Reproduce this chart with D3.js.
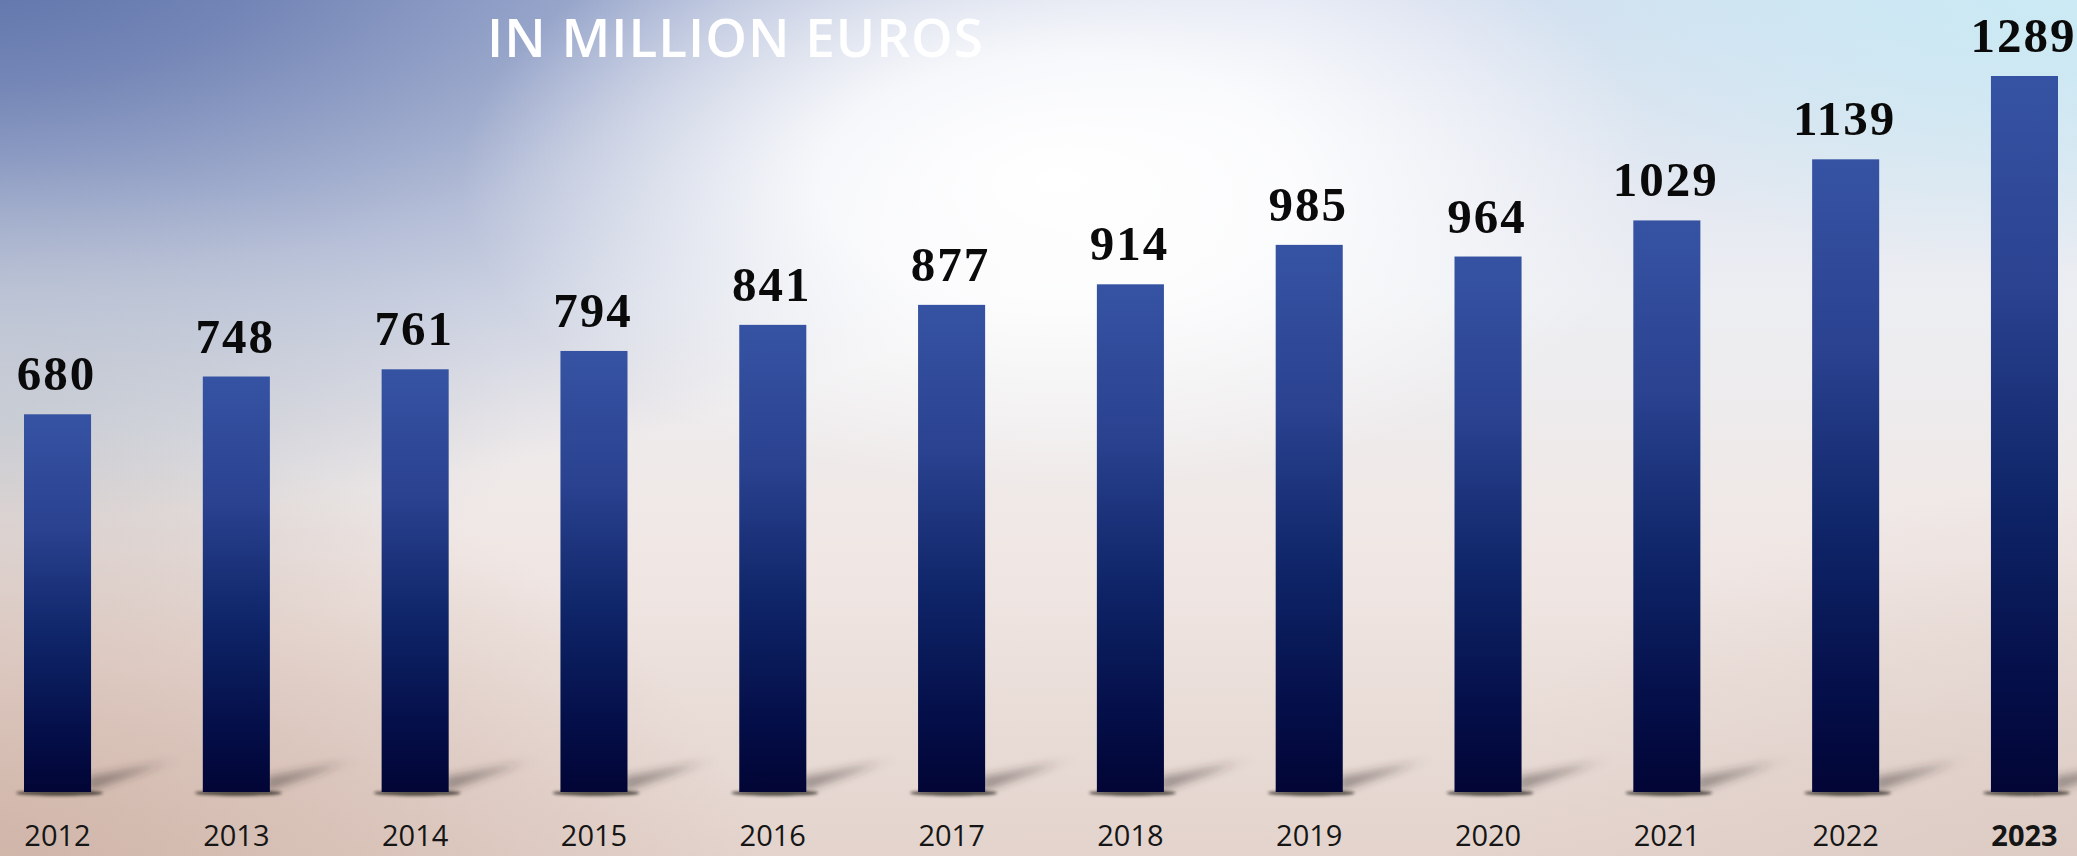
<!DOCTYPE html>
<html>
<head>
<meta charset="utf-8">
<script src="https://cdn.jsdelivr.net/npm/d3@7"></script>
<style>
  html, body { margin: 0; padding: 0; overflow: hidden; background: #e8e4e3; }
  svg { display: block; }
</style>
</head>
<body>
<div id="chart"></div>
<script>
// Annual figures, in million euros
const years  = ["2012", "2013", "2014", "2015", "2016", "2017", "2018", "2019", "2020", "2021", "2022", "2023"];
const values = [680, 748, 761, 794, 841, 877, 914, 985, 964, 1029, 1139, 1289];
const highlightYear = "2023";
const title = "IN MILLION EUROS";

const W = 2077, H = 856;

const svg = d3.select("#chart").append("svg")
  .attr("width", W).attr("height", H);

const defs = svg.append("defs");

// ---- background layers ----
const base = defs.append("linearGradient").attr("id", "bgBase")
  .attr("x1", 0).attr("y1", 0).attr("x2", 0).attr("y2", 1);
[["0%", "#d6ddee"], ["35%", "#eceef2"], ["65%", "#f0e7e4"], ["100%", "#e3d3cc"]]
  .forEach(([o, c]) => base.append("stop").attr("offset", o).attr("stop-color", c));

// elliptical soft spots: (cx, cy) centre, rx / ry radii
function spot(id, cx, cy, rx, ry, color, stops) {
  const g = defs.append("radialGradient").attr("id", id)
    .attr("gradientUnits", "userSpaceOnUse")
    .attr("cx", 0).attr("cy", 0).attr("r", 1)
    .attr("gradientTransform", `translate(${cx},${cy}) scale(${rx},${ry})`);
  stops.forEach(([o, a]) => g.append("stop").attr("offset", o)
    .attr("stop-color", color).attr("stop-opacity", a));
}
spot("bgBlue", -60, -60, 1350, 580, "#5a6fa8", [["0%", 1], ["25%", 0.8], ["60%", 0.35], ["100%", 0]]);
spot("bgGray", 0, 420, 520, 260, "#bcc3c9", [["0%", 0.55], ["100%", 0]]);
spot("bgWarm", -60, 900, 820, 480, "#cdb0a3", [["0%", 0.95], ["45%", 0.55], ["100%", 0]]);
spot("bgWarmR", 2150, 900, 700, 420, "#dac8c0", [["0%", 0.8], ["100%", 0]]);
spot("bgCyan", 2100, -30, 700, 300, "#c8ecf5", [["0%", 0.95], ["50%", 0.55], ["100%", 0]]);
spot("bgGlow", 1060, 180, 600, 310, "#ffffff", [["0%", 1], ["40%", 0.85], ["100%", 0]]);

["bgBase", "bgBlue", "bgGray", "bgWarm", "bgWarmR", "bgCyan", "bgGlow"].forEach(id =>
  svg.append("rect").attr("width", W).attr("height", H).attr("fill", `url(#${id})`));

// ---- bar fill: per-bar vertical gradient ----
const barGrad = defs.append("linearGradient").attr("id", "barGrad")
  .attr("x1", 0).attr("y1", 0).attr("x2", 0).attr("y2", 1);
[["0%", "#3653a3"], ["30%", "#2a4290"], ["60%", "#0e2467"], ["85%", "#040e48"], ["100%", "#020535"]]
  .forEach(([o, c]) => barGrad.append("stop").attr("offset", o).attr("stop-color", c));

const blurWide = defs.append("filter").attr("id", "shadowBlur")
  .attr("x", "-50%").attr("y", "-100%").attr("width", "200%").attr("height", "300%");
blurWide.append("feGaussianBlur").attr("stdDeviation", 4.5);

const blurTight = defs.append("filter").attr("id", "footBlur")
  .attr("x", "-50%").attr("y", "-200%").attr("width", "200%").attr("height", "500%");
blurTight.append("feGaussianBlur").attr("stdDeviation", 1.6);

// ---- scales ----
const x = d3.scaleBand().domain(years).range([24, 2058])
  .paddingInner(0.625).paddingOuter(0);
const y = d3.scaleLinear().domain([0, d3.max(values)]).range([792, 76]);

const data = years.map((yr, i) => ({ year: yr, value: values[i] }));
const bw = x.bandwidth();

// cast shadows falling to the upper right of each bar foot
svg.append("g").selectAll("path").data(data).join("path")
  .attr("d", d => {
    const r = x(d.year) + bw, b = y(0);
    return `M${r - 4},${b} L${r + 72},${b - 28} L${r + 90},${b - 32} L${r + 30},${b - 21} L${r - 4},${b - 15} Z`;
  })
  .attr("fill", "#3a2f2c").attr("fill-opacity", 0.42)
  .attr("filter", "url(#shadowBlur)");

// contact shadow right under each bar
svg.append("g").selectAll("ellipse").data(data).join("ellipse")
  .attr("cx", d => x(d.year) + bw / 2 + 2)
  .attr("cy", y(0) + 1)
  .attr("rx", bw / 2 + 10).attr("ry", 3)
  .attr("fill", "#1f1714").attr("fill-opacity", 0.7)
  .attr("filter", "url(#footBlur)");

// bars
svg.append("g").selectAll("rect").data(data).join("rect")
  .attr("x", d => x(d.year))
  .attr("y", d => y(d.value))
  .attr("width", bw)
  .attr("height", d => y(0) - y(d.value))
  .attr("fill", "url(#barGrad)");

// value labels
svg.append("g").selectAll("text").data(data).join("text")
  .attr("x", d => x(d.year) + bw / 2 - 1)
  .attr("y", d => y(d.value) - 24)
  .attr("text-anchor", "middle")
  .attr("font-family", "'Liberation Serif', serif")
  .attr("font-weight", 700)
  .attr("font-size", 49)
  .attr("letter-spacing", 2)
  .attr("fill", "#0a0a0a")
  .text(d => d.value);

// year axis
const xAxis = d3.axisBottom(x).tickSize(0).tickPadding(0);
const axisG = svg.append("g").attr("transform", `translate(0, 846)`).call(xAxis);
axisG.select(".domain").remove();
axisG.selectAll("text")
  .attr("dy", 0)
  .attr("font-family", "'Open Sans', sans-serif")
  .attr("font-size", 29)
  .attr("font-weight", d => d === highlightYear ? 700 : 400)
  .attr("fill", "#151515");

// title
svg.append("text")
  .attr("x", 487).attr("y", 57)
  .attr("font-family", "'Open Sans', sans-serif")
  .attr("font-size", 53)
  .attr("font-weight", 600)
  .attr("letter-spacing", 1)
  .attr("fill", "#ffffff")
  .text(title);
</script>
</body>
</html>
